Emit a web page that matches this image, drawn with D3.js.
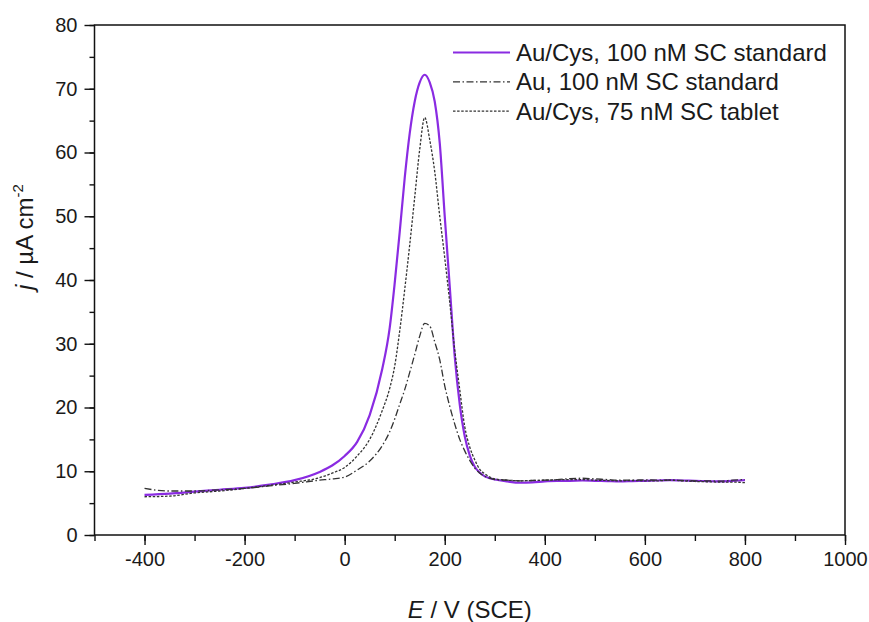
<!DOCTYPE html>
<html lang="en">
<head>
	<meta charset="utf-8"/>
	<title>Stripping voltammetry SC</title>
	<script src="https://d3js.org/d3.v7.min.js"></script>
	<style>
		body { margin: 0; background: #fff; }
		text { font-family: "Liberation Sans", Arial, sans-serif; fill: #1a1a1a; }
	</style>
</head>
<body>
<script>
// potential values (mV) shared by all three curves
var potential = [-400, -350, -300, -250, -200, -150, -100, -50, -25, 0, 25, 50, 75, 90, 100, 110, 120, 130, 140, 150,
	160, 170, 180, 190, 200, 210, 220, 230, 240, 250, 260, 270, 280, 290, 300, 325, 350, 375, 400, 425, 450, 475,
	500, 525, 550, 575, 600, 625, 650, 675, 700, 725, 750, 775, 800];

// Au/Cys, 100 nM SC standard
var cys100 = [6.3, 6.5, 6.8, 7.1, 7.4, 7.9, 8.6, 9.9, 10.9, 12.4, 14.6, 18.8, 26, 32.5, 39.5, 47.5, 56, 63, 68, 71,
	72.2, 71, 68, 61.5, 50, 39, 28, 20.5, 15.5, 12.5, 10.7, 9.8, 9.2, 8.9, 8.7, 8.4, 8.2, 8.25, 8.4, 8.5, 8.5, 8.55,
	8.5, 8.45, 8.4, 8.45, 8.5, 8.55, 8.6, 8.55, 8.5, 8.45, 8.4, 8.5, 8.6];

// Au, 100 nM SC standard
var au100 = [7.3, 6.9, 6.9, 7.1, 7.3, 7.7, 8.1, 8.6, 8.8, 9.1, 10.2, 11.6, 14.0, 16.2, 18.2, 20.5, 22.8, 25.5, 28.3, 31.2,
	33.2, 32.8, 30.3, 27.5, 23.4, 20.2, 17.4, 15.0, 13.2, 11.7, 10.5, 9.7, 9.2, 8.9, 8.7, 8.6, 8.5, 8.55, 8.6, 8.7, 8.85, 8.9,
	8.8, 8.7, 8.6, 8.6, 8.65, 8.6, 8.6, 8.55, 8.5, 8.5, 8.45, 8.6, 8.7];

// Au/Cys, 75 nM SC tablet
var cys75 = [6.0, 6.1, 6.6, 6.9, 7.3, 7.8, 8.3, 9.0, 9.7, 10.6, 12.4, 15.0, 19.5, 23, 26.5, 32, 38.5, 45.5, 53, 60.5,
	65.5, 62, 57, 50, 43.5, 36.5, 29, 22.8, 17, 13.8, 11.8, 10.3, 9.6, 9.1, 8.8, 8.6, 8.5, 8.55, 8.6, 8.65, 8.7, 8.7,
	8.6, 8.55, 8.5, 8.55, 8.5, 8.5, 8.6, 8.5, 8.4, 8.35, 8.3, 8.3, 8.2];

var seriesNames = ["Au/Cys, 100 nM SC standard", "Au, 100 nM SC standard", "Au/Cys, 75 nM SC tablet"];
var xMajor = [-400, -200, 0, 200, 400, 600, 800, 1000];
var yMajor = [0, 10, 20, 30, 40, 50, 60, 70, 80];

var w = 869;
var h = 622;
// plot area edges (don't call these top/left, they clash with window globals)
var padL = 94.5, padR = 845, padT = 25, padB = 535;

var xScale = d3.scaleLinear().domain([-500, 1000]).range([padL, padR]);
var yScale = d3.scaleLinear().domain([0, 80]).range([padB, padT]);

var svg = d3.select("body")
	.append("svg")
	.attr("width", w)
	.attr("height", h);

var plain = function(d) { return String(d); }; // keep the ascii minus, no thousands comma

// minor ticks first, then major ticks with labels
svg.append("g")
	.attr("transform", "translate(0," + padB + ")")
	.call(d3.axisBottom(xScale).tickValues(d3.range(-500, 1001, 100)).tickSize(6).tickFormat(""));
svg.append("g")
	.attr("transform", "translate(0," + padB + ")")
	.call(d3.axisBottom(xScale).tickValues(xMajor).tickSize(10).tickPadding(7).tickFormat(plain))
	.attr("font-size", 20);

svg.append("g")
	.attr("transform", "translate(" + padL + ",0)")
	.call(d3.axisLeft(yScale).tickValues(d3.range(0, 81, 5)).tickSize(5).tickFormat(""));
svg.append("g")
	.attr("transform", "translate(" + padL + ",0)")
	.call(d3.axisLeft(yScale).tickValues(yMajor).tickSize(10).tickPadding(7).tickFormat(plain))
	.attr("font-size", 20);

svg.selectAll(".domain").remove();
svg.selectAll(".tick line").attr("stroke", "#111").attr("stroke-width", 1.4);
svg.selectAll(".tick text").attr("fill", "#1a1a1a").attr("font-family", "Liberation Sans, Arial, sans-serif");

// frame
svg.append("rect")
	.attr("x", padL)
	.attr("y", padT)
	.attr("width", padR - padL)
	.attr("height", padB - padT)
	.attr("fill", "none")
	.attr("stroke", "#111")
	.attr("stroke-width", 1.5);

// curves
var styles = [
	{data: cys100, color: "#8a2be2", width: 2.2, dash: null},
	{data: au100, color: "#333", width: 1.3, dash: "7,2.5,1.5,2.5"},
	{data: cys75, color: "#333", width: 1.3, dash: "2.5,1.6"}
];

var line = d3.line()
	.x(function(d) { return xScale(d[0]); })
	.y(function(d) { return yScale(d[1]); })
	.curve(d3.curveMonotoneX);

styles.forEach(function(s) {
	svg.append("path")
		.datum(potential.map(function(e, i) { return [e, s.data[i]]; }))
		.attr("d", line)
		.attr("fill", "none")
		.attr("stroke", s.color)
		.attr("stroke-width", s.width)
		.attr("stroke-dasharray", s.dash);
});

// legend
var legend = svg.append("g");
styles.forEach(function(s, i) {
	var ly = 52.5 + i * 29.3;
	legend.append("line")
		.attr("x1", 453).attr("x2", 510)
		.attr("y1", ly).attr("y2", ly)
		.attr("stroke", s.color)
		.attr("stroke-width", s.width)
		.attr("stroke-dasharray", s.dash);
	legend.append("text")
		.attr("x", 516)
		.attr("y", ly + 8.5)
		.attr("font-size", 24)
		.text(seriesNames[i]);
});

// axis titles
var xt = svg.append("text")
	.attr("x", (padL + padR) / 2)
	.attr("y", 618)
	.attr("text-anchor", "middle")
	.attr("font-size", 24);
xt.append("tspan").attr("font-style", "italic").text("E");
xt.append("tspan").text(" / V (SCE)");

var yt = svg.append("text")
	.attr("transform", "translate(33,290) rotate(-90)")
	.attr("font-size", 24);
yt.append("tspan").attr("font-style", "italic").text("j");
yt.append("tspan").text(" / \u00b5A cm");
yt.append("tspan").attr("font-size", 15).attr("dy", -10).text("-2");
</script>
</body>
</html>
